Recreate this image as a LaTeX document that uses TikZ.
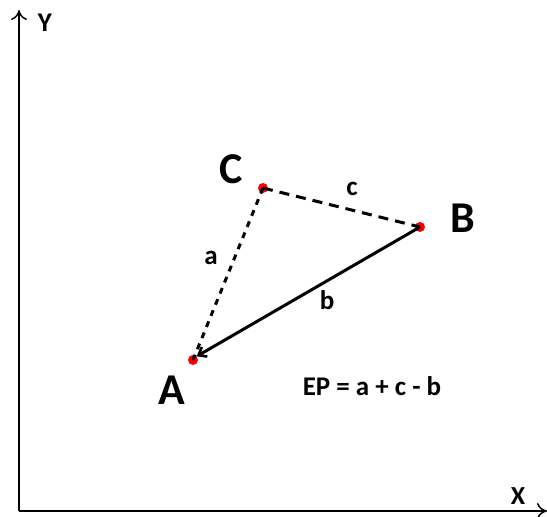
\documentclass[tikz,border=0pt]{standalone}
\usepackage{fontspec}
\setmainfont{Carlito}
\usetikzlibrary{arrows.meta}
\tikzset{
  pt/.style={circle,fill=red,inner sep=0pt,minimum size=10pt},
  big/.style={font=\fontsize{44}{44}\selectfont\bfseries,inner sep=0pt},
  lbl/.style={font=\fontsize{27}{27}\selectfont\bfseries,inner sep=0pt},
  axis/.style={line width=2pt,-{To[length=10pt,width=16pt,line width=1.5pt]}},
}
\begin{document}
\begin{tikzpicture}[x=1pt,y=-1pt]
\useasboundingbox (0,0) rectangle (547,517);
\coordinate (O) at (19,511);
\coordinate (Ytip) at (19,10);
\coordinate (Xtip) at (547,511);
\draw[axis] (O) -- (Ytip);
\draw[axis] (O) -- (Xtip);
\node[font=\fontsize{27}{27}\selectfont\bfseries,inner sep=0pt] (Y) at (45,23) {Y};
\node[font=\fontsize{26}{26}\selectfont\bfseries,inner sep=0pt] (X) at (518,496) {X};
\node[pt] (A) at (193,360) {};
\node[pt] (B) at (420,227) {};
\node[pt] (C) at (263,188) {};
\draw[line width=3pt,dash pattern=on 10pt off 7pt] (C.center) -- (B.center);
\draw[line width=3pt,dash pattern=on 6pt off 6pt] (C.center) -- (A.center);
\draw[line width=3pt,-{Straight Barb[length=7pt,width=11pt,line width=2.6pt]}] (B.center) -- (A.north east);
\node[big] (Cl) at (231,169) {C};
\node[big] (Bl) at (463,218) {B};
\node[big] (Al) at (172,390) {A};
\node[lbl] (al) at (211,258) {a};
\node[lbl] (cl) at (352,189) {c};
\node[lbl] (bl) at (327,300) {b};
\node[lbl] (ep) at (372,386) {EP = a + c - b};
\end{tikzpicture}
\end{document}
